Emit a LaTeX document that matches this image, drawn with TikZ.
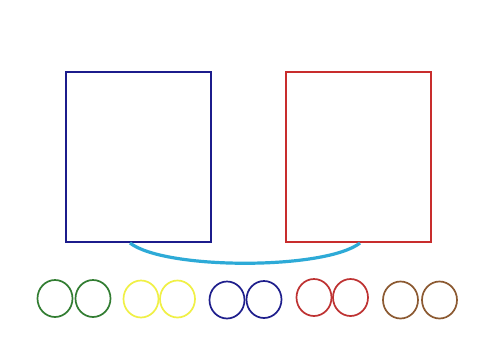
\documentclass[tikz,border=0pt]{standalone}
\usetikzlibrary{shapes.geometric}
\definecolor{boxblue}{RGB}{28,28,140}
\definecolor{boxred}{RGB}{200,45,45}
\definecolor{arcblue}{RGB}{45,170,215}
\definecolor{cgreen}{RGB}{50,125,50}
\definecolor{cyellow}{RGB}{240,240,70}
\definecolor{cblue}{RGB}{30,30,140}
\definecolor{cred}{RGB}{190,50,50}
\definecolor{cbrown}{RGB}{140,90,50}
\begin{document}
\begin{tikzpicture}[x=1pt,y=-1pt,
  bigbox/.style={draw, line width=2pt, minimum width=145pt, minimum height=170pt, inner sep=0pt},
  ring/.style={draw, ellipse, line width=1.7pt, minimum width=35pt, minimum height=37pt, inner sep=0pt}]
\useasboundingbox[fill=white] (0,0) rectangle (493,364);
\node[bigbox, draw=boxblue] (bb) at (138.5,157) {};
\node[bigbox, draw=boxred] (rb) at (358.5,157) {};
\coordinate (a1) at (130,243);
\coordinate (a2) at (360,243);
\draw[arcblue, line width=3.2pt] (a1) .. controls (165,270) and (325,270) .. (a2);
\node[ring, draw=cgreen] (g1) at (55,298.5) {};
\node[ring, draw=cgreen] (g2) at (93,298.5) {};
\node[ring, draw=cyellow] (y1) at (141,299) {};
\node[ring, draw=cyellow] (y2) at (177.5,299) {};
\node[ring, draw=cblue] (b1) at (227,300) {};
\node[ring, draw=cblue] (b2) at (264,299.5) {};
\node[ring, draw=cred] (r1) at (314,297.5) {};
\node[ring, draw=cred] (r2) at (350.5,297.5) {};
\node[ring, draw=cbrown] (n1) at (400.5,300) {};
\node[ring, draw=cbrown] (n2) at (439.5,300) {};
\end{tikzpicture}
\end{document}
